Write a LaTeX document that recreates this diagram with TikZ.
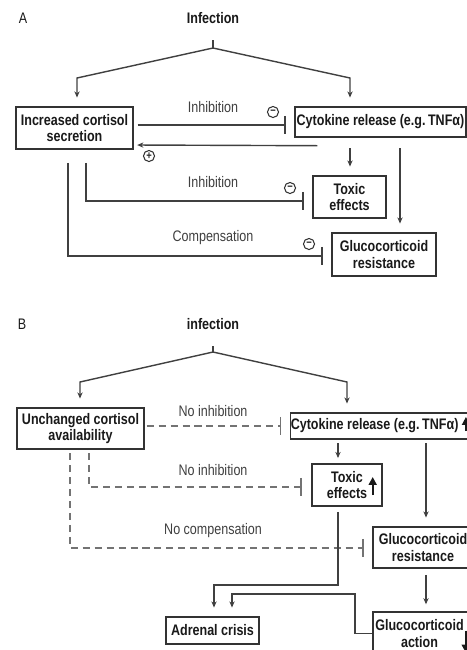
\documentclass[tikz,border=0pt]{standalone}
\usepackage{fontspec}
\setmainfont{Liberation Sans}[FakeStretch=0.82]
\usetikzlibrary{arrows.meta,calc,positioning}

\newcommand\fsz{\fontsize{8.7}{9.2}\selectfont}

\tikzset{
  box/.style={draw=black!80, line width=0.8pt, align=center, inner sep=0pt,
    font=\fsz\bfseries, text=black!90},
  head/.style={font=\fsz\bfseries, text=black!90},
  lbl/.style={font=\fsz, text=black!75},
  link/.style={draw=black!75, line width=0.8pt},
  arr/.style={link, -{Stealth[length=3.5pt,width=3pt]}, shorten >=5pt},
  inh/.style={link, -{Bar[width=10.5pt,line width=0.8pt]}, shorten >=5pt},
  noinh/.style={inh, draw=black!55, dash pattern=on 4pt off 2.8pt},
  sign/.style={circle, draw=black!80, line width=0.6pt, inner sep=0pt,
    minimum size=6.3pt, font=\fontsize{6.5}{7}\selectfont\bfseries, text=black!85},
  bigup/.style={line width=1.1pt, draw=black!90, -{Triangle[length=4.5pt,width=4.5pt]}}
}

\begin{document}
\begin{tikzpicture}[x=0.02cm, y=-0.02cm]
\useasboundingbox (0,0) rectangle (467,650);
\clip (0,0) rectangle (467,650);

% ---- panel A
\node[lbl, text=black!90] (tagA) at (23,18) {A};
\node[head] (infA) at (213,18) {Infection};
\node[box, minimum width=2.34cm, minimum height=0.84cm] (cortA) at (74.5,128) {Increased cortisol\\secretion};
\node[box, minimum width=3.42cm, minimum height=0.6cm] (cytoA) at (380.5,122) {Cytokine release (e.g.\,TNFα)};
\node[box, minimum width=1.46cm, minimum height=0.84cm] (toxA) at (349.5,197) {Toxic\\effects};
\node[box, minimum width=2.08cm, minimum height=0.86cm] (glucA) at (384,254.5) {Glucocorticoid\\resistance};

\coordinate (forkA) at (213,48);
\coordinate (kA1) at (77,78);
\coordinate (kA2) at (350,78);
\coordinate (kA3) at (400,150);
\coordinate (kA4) at (86,201);
\coordinate (kA5) at (68,256);

\draw[link, shorten <=6pt] (infA) -- (forkA);
\draw[arr] (forkA) -- (kA1) -- (kA1 |- cortA.north);
\draw[arr] (forkA) -- (kA2) -- (kA2 |- cytoA.north);

\draw[inh] ($(cortA.east)+(4,-3)$) -- ($(cytoA.west)+(0,3)$);
\node[lbl] (inhA1) at (213,107) {Inhibition};
\node[sign] (mA1) at (273,112) {−};

\draw[arr, shorten >=2pt] ($(cytoA.south west)+(23,8)$) -- ($(cortA.east)+(0,17)$);
\node[sign] (pA1) at (149,156) {+};

\draw[arr, shorten <=6pt] (kA2 |- cytoA.south) -- (kA2 |- toxA.north);
\draw[arr, shorten <=6pt] (kA3 |- cytoA.south) -- (kA3 |- glucA.north);

\draw[inh, shorten <=7.5pt] (kA4 |- cortA.south) -- (kA4) -- (kA4 -| toxA.west);
\node[lbl] (inhA2) at (213,182) {Inhibition};
\node[sign] (mA2) at (290,188) {−};

\draw[inh, shorten <=7.5pt] (kA5 |- cortA.south) -- (kA5) -- (kA5 -| glucA.west);
\node[lbl] (compA) at (213,238) {Compensation};
\node[sign] (mA3) at (309,244) {−};

% ---- panel B
\node[lbl, text=black!90] (tagB) at (22,324) {B};
\node[head] (infB) at (213,324) {infection};
\node[box, minimum width=2.54cm, minimum height=0.82cm] (cortB) at (80.5,428.5) {Unchanged cortisol\\availability};
\node[box, minimum width=3.44cm, minimum height=0.52cm] (cytoB) at (379,426) {Cytokine release (e.g.\,TNFα)\hspace*{5pt}};
\node[box, minimum width=1.4cm, minimum height=0.84cm] (toxB) at (347,485) {Toxic\\effects};
\node[box, minimum width=2.0cm, minimum height=0.82cm] (glucR) at (423,547.5) {Glucocorticoid\\resistance};
\node[box, minimum width=2.0cm, minimum height=0.86cm] (glucX) at (423,633.5) {Glucocorticoid\hspace*{4pt}\\action\hspace*{4pt}};
\node[box, minimum width=1.86cm, minimum height=0.54cm] (crisis) at (212.5,630.5) {Adrenal crisis};

\coordinate (forkB) at (213,352);
\coordinate (kB1) at (80,382);
\coordinate (kB2) at (347,382);
\coordinate (kB3) at (338,450);
\coordinate (kB4) at (426,450);
\coordinate (kB5) at (89,487);
\coordinate (kB6) at (70,548);
\coordinate (kB7) at (338,585);
\coordinate (kB8) at (214,585);
\coordinate (kB9) at (355,594);
\coordinate (kB10) at (232,594);

\draw[link, shorten <=6pt] (infB) -- (forkB);
\draw[arr] (forkB) -- (kB1) -- (kB1 |- cortB.north);
\draw[arr] (forkB) -- (kB2) -- (kB2 |- cytoB.north);

\draw[noinh] ($(cortB.east)+(2,-2.5)$) -- (cytoB.west);
\node[lbl] (noinhB1) at (213,411) {No inhibition};

\draw[arr, shorten <=2pt, shorten >=3pt] (kB3 |- cytoB.south) -- (kB3 |- toxB.north);
\draw[arr, shorten <=2pt] (kB4 |- cytoB.south) -- (kB4 |- glucR.north);

\draw[noinh, shorten <=2pt, shorten >=5.5pt] (kB5 |- cortB.south) -- (kB5) -- (kB5 -| toxB.west);
\node[lbl] (noinhB2) at (213,470) {No inhibition};

\draw[noinh, shorten <=2pt] (kB6 |- cortB.south) -- (kB6) -- (kB6 -| glucR.west);
\node[lbl] (nocompB) at (213,531) {No compensation};

\draw[arr, shorten <=3pt] (kB7 |- toxB.south) -- (kB7) -- (kB8) -- (kB8 |- crisis.north);
\draw[arr] (glucX.west) -- (kB9 |- glucX.west) -- (kB9) -- (kB10) -- (kB10 |- crisis.north);
\draw[arr, shorten <=3.5pt, shorten >=4pt] (kB4 |- glucR.south) -- (kB4 |- glucX.north);

% up / down marks
\draw[bigup] ($(toxB.east)+(-10,10)$) -- ($(toxB.east)+(-10,-8)$);
\draw[bigup, line width=0.9pt] ($(cytoB.east)+(-2,5)$) -- ($(cytoB.east)+(-2,-9)$);
\draw[bigup] ($(glucX.east)+(-8,-3)$) -- ($(glucX.east)+(-8,19)$);
\end{tikzpicture}
\end{document}
